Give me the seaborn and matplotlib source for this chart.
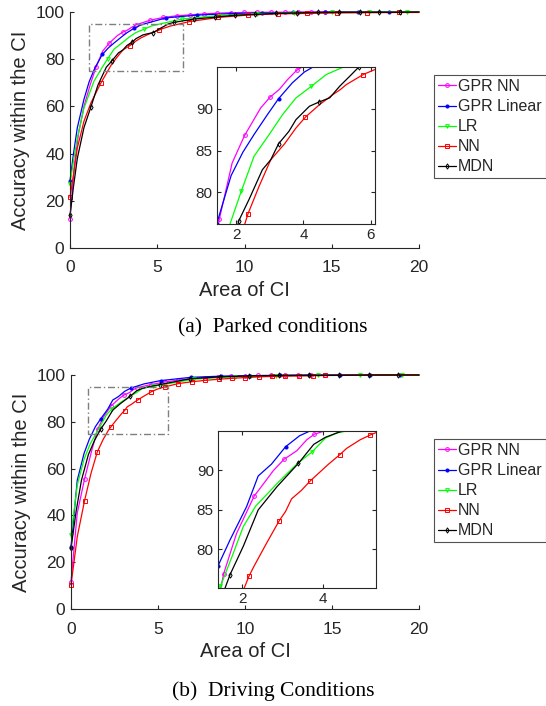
import seaborn as sns
import matplotlib
matplotlib.use('Agg')
import matplotlib.pyplot as plt
from matplotlib.patches import Rectangle

# Model names and look
models = ['GPR NN', 'GPR Linear', 'LR', 'NN', 'MDN']
colors = ['#ff00ff', '#0000ff', '#00ff00', '#ff0000', '#000000']
markers = ['o', '.', 'v', 's', 'd']

# ---------------- (a) Parked conditions ----------------
park_gprnn_x = [0, 0.25, 0.5, 0.8, 1.15, 1.5, 1.88, 2.25, 2.73, 3.01, 3.28, 3.53, 3.8, 4.58, 5.35,
                6.13, 6.9, 7.67, 8.44, 9.2, 9.97, 10.74, 11.5, 12.3, 13.05, 13.8, 14.6, 20]
park_gprnn_y = [12.5, 35, 49, 60, 69, 76.8, 83.5, 86.8, 90.1, 91.4, 92.3, 93.5, 94.6, 96.5, 97.7,
                98.4, 98.8, 99.2, 99.5, 99.7, 99.8, 99.85, 99.9, 99.9, 99.95, 99.95, 100, 100]
park_gprnn_mk = [0, 1.5, 2.25, 3.01, 3.8, 4.58, 5.35, 6.13, 6.9, 7.67, 8.44, 9.2, 9.97, 10.74,
                 11.5, 12.3, 13.05, 13.8, 14.6]
park_gprnn_mk_in = [1.5, 2.25, 3.01, 3.8]

park_gprlin_x = [0, 0.2, 0.42, 0.8, 1.1, 1.42, 1.85, 2.2, 2.53, 2.93, 3.26, 3.67, 4.03, 4.33, 5.5,
                 7.3, 9.15, 11.0, 12.8, 14.6, 16.5, 18.3, 20]
park_gprlin_y = [28.5, 40, 51, 63, 70.5, 76.2, 82.0, 84.8, 86.9, 89.3, 91.2, 93.1, 94.4, 95.1, 97.5,
                 98.7, 99.3, 99.6, 99.8, 99.9, 99.95, 100, 100]
park_gprlin_mk = [0, 1.85, 3.67, 5.5, 7.3, 9.15, 11.0, 12.8, 14.6, 16.5, 18.3]
park_gprlin_mk_in = [1.42, 3.26]

park_lr_x = [0, 0.2, 0.42, 0.8, 1.37, 1.8, 2.15, 2.53, 2.98, 3.38, 3.78, 4.24, 4.68, 5.08, 6.4,
             8.55, 10.7, 12.85, 15.0, 17.15, 19.3, 20]
park_lr_y = [27, 37, 46.6, 59.3, 70.6, 76.0, 80.1, 84.3, 86.9, 89.3, 91.3, 92.7, 94.1, 94.8, 97.0,
             98.5, 99.3, 99.6, 99.8, 99.9, 100, 100]
park_lr_mk = [0, 2.15, 4.24, 6.4, 8.55, 10.7, 12.85, 15.0, 17.15, 19.3]
park_lr_mk_in = [2.15, 4.24]

park_nn_x = [0, 0.2, 0.42, 0.8, 1.2, 1.76, 2.35, 2.68, 3.03, 3.44, 3.78, 4.06, 4.48, 4.88, 5.1,
             5.28, 5.78, 6.13, 6.82, 8.5, 10.2, 11.9, 13.6, 15.3, 17.0, 18.85, 20]
park_nn_y = [21.5, 31, 42.4, 53.7, 61.5, 69.8, 77.4, 80.7, 83.9, 85.8, 87.7, 89.0, 90.5, 91.7, 92.3,
             92.9, 94.1, 94.7, 95.9, 97.7, 98.7, 99.2, 99.4, 99.6, 99.7, 99.8, 99.8]
park_nn_mk = [0, 1.76, 3.44, 5.1, 6.82, 8.5, 10.2, 11.9, 13.6, 15.3, 17.0, 18.85]
park_nn_mk_in = [2.35, 4.06, 5.78]

park_mdn_x = [0, 0.2, 0.42, 0.8, 1.19, 1.6, 2.08, 2.39, 2.78, 3.03, 3.26, 3.57, 3.78, 4.18, 4.46,
              4.78, 5.08, 5.38, 5.65, 5.96, 7.09, 8.3, 9.44, 10.6, 11.8, 13.0, 14.2, 15.4, 16.6,
              17.7, 18.9, 20]
park_mdn_y = [13.8, 26, 38, 51, 59.6, 69, 76.6, 79.2, 82.7, 83.9, 85.8, 87.3, 88.7, 90.3, 90.8,
              91.3, 92.7, 93.9, 95.0, 95.6, 97.0, 97.8, 98.6, 99.0, 99.4, 99.6, 99.8, 99.9, 99.9,
              99.9, 99.9, 100]
park_mdn_mk = [0, 1.19, 2.39, 3.57, 4.78, 5.96, 7.09, 8.3, 9.44, 10.6, 11.8, 13.0, 14.2, 15.4,
               16.6, 17.7, 18.9]
park_mdn_mk_in = [2.08, 3.26, 4.46, 5.65]

park_box_x = [1.1, 6.5]
park_box_y = [75, 95]
park_inset_xlim = [1.43, 6.13]
park_inset_ylim = [76.2, 95]
park_inset_xticks = [2, 4, 6]

# ---------------- (b) Driving conditions ----------------
drive_gprnn_x = [0, 0.36, 0.78, 1.2, 1.54, 1.86, 2.3, 2.53, 2.78, 3.04, 3.36, 3.61, 3.8, 4.6, 5.38,
                 6.15, 6.9, 7.7, 8.45, 9.2, 10.0, 10.75, 11.5, 12.3, 13.05, 13.8, 14.6, 20]
drive_gprnn_y = [11.7, 41, 55.6, 68, 76.9, 82.0, 86.75, 88.3, 90.0, 91.4, 92.5, 93.9, 94.6, 95.9,
                 97.0, 97.8, 98.4, 98.9, 99.3, 99.5, 99.7, 99.8, 99.85, 99.9, 99.95, 99.95, 100, 100]
drive_gprnn_mk = [0, 0.78, 1.54, 2.3, 3.04, 3.8, 4.6, 5.38, 6.15, 6.9, 7.7, 8.45, 9.2, 10.0,
                  10.75, 11.5, 12.3, 13.05, 13.8, 14.6]
drive_gprnn_mk_in = [1.54, 2.3, 3.04, 3.8]

drive_gprlin_x = [0, 0.36, 0.75, 1.05, 1.4, 1.7, 2.11, 2.4, 2.73, 3.08, 3.43, 4.2, 5.15, 6.88, 8.6,
                  10.3, 12.0, 13.7, 15.45, 17.2, 18.9, 20]
drive_gprlin_y = [26.6, 55, 66.5, 72.5, 77.9, 81.2, 85.4, 89.3, 90.8, 93.0, 94.4, 96.2, 97.6, 99.0,
                  99.5, 99.7, 99.8, 99.9, 100, 100, 100, 100]
drive_gprlin_mk = [0, 1.7, 3.43, 5.15, 6.88, 8.6, 10.3, 12.0, 13.7, 15.45, 17.2, 18.9]
drive_gprlin_mk_in = [1.4, 3.08]

drive_lr_x = [0, 0.36, 0.75, 1.1, 1.46, 1.78, 2.03, 2.34, 2.9, 3.36, 3.75, 4.07, 4.36, 4.7, 7.05,
              9.4, 11.8, 14.2, 16.6, 19.0, 20]
drive_lr_y = [31.6, 53, 64, 70.5, 75.3, 79.5, 82.9, 85.5, 88.5, 90.8, 92.4, 94.1, 94.75, 95.1, 98.2,
              99.3, 99.6, 99.8, 99.9, 99.9, 100]
drive_lr_mk = [0, 2.34, 4.7, 7.05, 9.4, 11.8, 14.2, 16.6, 19.0]
drive_lr_mk_in = [1.46, 3.75]

drive_nn_x = [0, 0.36, 0.78, 1.15, 1.51, 1.85, 2.17, 2.3, 2.61, 2.92, 3.08, 3.23, 3.48, 3.68, 3.85,
              4.15, 4.43, 4.6, 4.94, 5.19, 5.38, 6.15, 6.93, 7.7, 8.5, 9.27, 10.0, 10.8, 11.55,
              12.3, 13.1, 13.9, 14.6, 20]
drive_nn_y = [10.3, 30.9, 46.3, 58, 67.1, 72.5, 76.6, 77.9, 80.8, 83.6, 84.8, 86.4, 87.5, 88.6,
              89.4, 90.8, 92.0, 92.8, 93.9, 94.5, 94.9, 96.3, 97.1, 97.7, 98.2, 98.6, 98.9, 99.2,
              99.4, 99.5, 99.6, 99.7, 99.8, 100]
drive_nn_mk = [0, 0.78, 1.51, 2.3, 3.08, 3.85, 4.6, 5.38, 6.15, 6.93, 7.7, 8.5, 9.27, 10.0, 10.8,
               11.55, 12.3, 13.1, 13.9, 14.6]
drive_nn_mk_in = [2.17, 2.92, 3.68, 4.43, 5.19]

drive_mdn_x = [0, 0.3, 0.6, 1.0, 1.35, 1.7, 2.03, 2.4, 2.86, 3.4, 3.78, 4.07, 4.38, 5.1, 6.85,
               8.55, 10.25, 11.95, 13.7, 15.4, 17.1, 18.8, 20]
drive_mdn_y = [25.9, 42, 55, 66, 72, 76.8, 80.4, 85.0, 87.9, 90.9, 93.3, 94.2, 94.8, 95.9, 98.4,
               99.2, 99.6, 99.8, 99.9, 99.9, 100, 100, 100]
drive_mdn_mk = [0, 1.7, 3.4, 5.1, 6.85, 8.55, 10.25, 11.95, 13.7, 15.4, 17.1, 18.8]
drive_mdn_mk_in = [1.7, 3.4]

drive_box_x = [0.96, 5.56]
drive_box_y = [74.7, 95]
drive_inset_xlim = [1.4, 5.33]
drive_inset_ylim = [75.1, 95]
drive_inset_xticks = [2, 4]

park = [(park_gprnn_x, park_gprnn_y, park_gprnn_mk, park_gprnn_mk_in),
        (park_gprlin_x, park_gprlin_y, park_gprlin_mk, park_gprlin_mk_in),
        (park_lr_x, park_lr_y, park_lr_mk, park_lr_mk_in),
        (park_nn_x, park_nn_y, park_nn_mk, park_nn_mk_in),
        (park_mdn_x, park_mdn_y, park_mdn_mk, park_mdn_mk_in)]
drive = [(drive_gprnn_x, drive_gprnn_y, drive_gprnn_mk, drive_gprnn_mk_in),
         (drive_gprlin_x, drive_gprlin_y, drive_gprlin_mk, drive_gprlin_mk_in),
         (drive_lr_x, drive_lr_y, drive_lr_mk, drive_lr_mk_in),
         (drive_nn_x, drive_nn_y, drive_nn_mk, drive_nn_mk_in),
         (drive_mdn_x, drive_mdn_y, drive_mdn_mk, drive_mdn_mk_in)]

sns.set_style('ticks')
plt.rcParams['font.family'] = ['Liberation Sans', 'DejaVu Sans']
plt.rcParams['axes.edgecolor'] = '#262626'
plt.rcParams['xtick.color'] = '#262626'
plt.rcParams['ytick.color'] = '#262626'
plt.rcParams['text.color'] = '#262626'
plt.rcParams['axes.labelcolor'] = '#262626'

W, H = 546, 706
fig = plt.figure(figsize=(W / 100, H / 100), dpi=100)


def fr(l, t, r, b):
    # pixel box -> figure fraction rect
    return [l / W, 1 - b / H, (r - l) / W, (b - t) / H]


def draw_series(ax, data, inset):
    for (xs, ys, mk, mk_in), name, c, m in zip(data, models, colors, markers):
        which = mk_in if inset else mk
        idx = [xs.index(v) for v in which]
        filled = m == '.'
        sns.lineplot(x=xs, y=ys, ax=ax, color=c, lw=0.9, marker=m, markevery=idx,
                     markersize=4.5 if filled else 2.7, mec=c, mfc=c if filled else 'none',
                     mew=0.7, estimator=None, label=name, legend=False, clip_on=inset)


def panel(data, main_px, inset_px, box_x, box_y, in_xlim, in_ylim, in_xticks,
          caption, cap_y, leg_top):
    ax = fig.add_axes(fr(*main_px))
    draw_series(ax, data, False)
    ax.set_xlim(0, 20)
    ax.set_ylim(0, 100)
    ax.set_xticks([0, 5, 10, 15, 20])
    ax.set_yticks([0, 20, 40, 60, 80, 100])
    ax.tick_params(direction='in', labelsize=12.5, length=3, width=0.8, pad=4)
    ax.tick_params(axis='x', pad=9)
    sns.despine(ax=ax)
    for s in ['left', 'bottom']:
        ax.spines[s].set_linewidth(0.8)
    ax.set_xlabel('Area of CI', fontsize=14.5, labelpad=4)
    ax.set_ylabel('Accuracy within the CI', fontsize=14.5, labelpad=4)
    ax.add_patch(Rectangle((box_x[0], box_y[0]), box_x[1] - box_x[0], box_y[1] - box_y[0],
                           fill=False, ec='#7f7f7f', lw=1.0, ls=(0, (5, 2, 1, 2)), zorder=5))

    ins = fig.add_axes(fr(*inset_px))
    draw_series(ins, data, True)
    ins.set_xlim(*in_xlim)
    ins.set_ylim(*in_ylim)
    ins.set_xticks(in_xticks)
    ins.set_yticks([80, 85, 90])
    ins.tick_params(direction='in', labelsize=11, length=3, width=0.8, pad=3,
                    top=True, right=True)
    for s in ins.spines.values():
        s.set_linewidth(0.8)
    ins.set_xlabel('')
    ins.set_ylabel('')

    h, l = ax.get_legend_handles_labels()
    leg = fig.legend(h, l, loc='upper left', bbox_to_anchor=(434 / W, 1 - leg_top / H),
                     fontsize=11.5, frameon=True, fancybox=False, edgecolor='#262626',
                     borderpad=0.25, handlelength=1.1, handletextpad=0.15,
                     labelspacing=0.32, borderaxespad=0)
    leg.get_frame().set_linewidth(0.8)

    fig.text(0.5, 1 - cap_y / H, caption, ha='center', va='center', fontsize=15.5,
             family='Liberation Serif', color='black')


panel(park, (70, 12, 419, 248), (217, 67, 375, 224), park_box_x, park_box_y,
      park_inset_xlim, park_inset_ylim, park_inset_xticks,
      '(a)  Parked conditions', 328, 75)
panel(drive, (71, 375, 419, 609), (218, 431, 376, 588), drive_box_x, drive_box_y,
      drive_inset_xlim, drive_inset_ylim, drive_inset_xticks,
      '(b)  Driving Conditions', 691, 439)

fig.savefig('out.png', dpi=100)
